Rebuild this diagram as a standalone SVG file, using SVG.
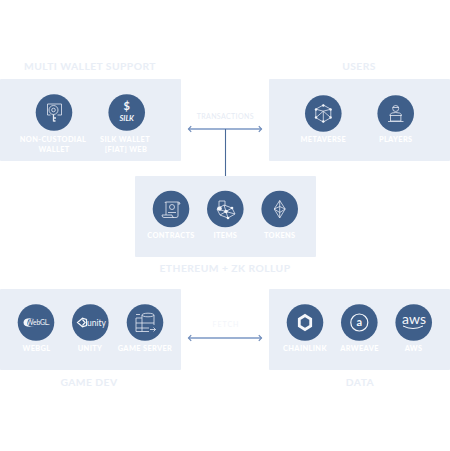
<svg xmlns="http://www.w3.org/2000/svg" width="450" height="451" viewBox="0 0 450 451">
<defs>
<marker id="ah" markerUnits="userSpaceOnUse" markerWidth="6" markerHeight="8" refX="4.5" refY="4" orient="auto-start-reverse"><path d="M1.8 1.2L4.5 4L1.8 6.800" fill="none" stroke="#6f8cbb" stroke-width="1.200"/></marker>
</defs>
<style>
text{font-family:"Lato","Liberation Sans",sans-serif;font-weight:700;text-anchor:middle}
.panel{fill:#e9eef6}
.disc{fill:#3f5f8a}
.title{fill:#e9eef6;font-size:10.3px;letter-spacing:.45px}
.lab{fill:#ffffff;font-size:7.4px;letter-spacing:.35px;font-weight:900}
.edge{fill:#e6ebf4;font-size:7px;letter-spacing:.4px;font-weight:400}
.ic{fill:none;stroke:#e4e9f2;stroke-width:.8}
.glyph{fill:#f2f5fa}
.logo{fill:#f5f7fb;font-weight:400}
.conn{fill:none;stroke:#7b97c4;stroke-width:1.300;marker-start:url(#ah);marker-end:url(#ah)}
</style>
<g id="connectors">
<line class="conn" x1="188.500" y1="129" x2="261.500" y2="129"/>
<line class="conn" x1="188.500" y1="338" x2="261.500" y2="338"/>
<line x1="225.500" y1="129" x2="225.500" y2="176" stroke="#4a6a99" stroke-width="1.100"/>
<text class="edge" x="225.300" y="118.500">TRANSACTIONS</text>
<text class="edge" x="226" y="327" style="fill:#f3f5fa;letter-spacing:1px">FETCH</text>
</g>
<g id="multi-wallet"><rect class="panel" x="0" y="79" width="181" height="82" rx="1"/><text class="title" x="90" y="70">MULTI WALLET SUPPORT</text></g>
<g id="non-custodial"><circle class="disc" cx="54" cy="112.500" r="18.300"/><path class="ic" d="M47.500 115v-11h14v11h-4M47.500 115h3"/><circle class="ic" cx="53.500" cy="110" r="4.500"/><circle class="ic" cx="53.500" cy="110" r="1.800"/><path d="M53.500 114.500v7M53.500 118h2.500M53.500 121h2" fill="none" stroke="#e4e9f2" stroke-width="1.300"/><text class="lab" x="53" y="141.500">NON-CUSTODIAL</text><text class="lab" x="54" y="151.500">WALLET</text></g>
<g id="silk-wallet"><circle class="disc" cx="126.700" cy="112.500" r="18.300"/><text x="126.700" y="109.500" style="fill:#f5f7fb;font-size:11px">$</text><text x="126.700" y="120.500" style="fill:#f5f7fb;font-size:7.500px;font-style:italic">SILK</text><text class="lab" x="125" y="141.500">SILK WALLET</text><text class="lab" x="126" y="151.500">[FIAT] WEB</text></g>
<g id="users"><rect class="panel" x="269" y="79" width="181" height="82" rx="1"/><text class="title" x="359" y="70">USERS</text></g>
<g id="metaverse"><circle class="disc" cx="323.300" cy="113.500" r="18.300"/><path class="ic" d="M323.300 105l7.500 4.200v8.500l-7.500 4.300l-7.500-4.300v-8.500zM315.800 109.200l7.500 2l7.500-2M323.300 111.200v10.800M316 117.500l7.300-6.300l7.300 6.300"/><circle class="glyph" cx="323.300" cy="105.500" r="1.200"/><circle class="glyph" cx="316" cy="109.500" r="1.200"/><circle class="glyph" cx="330.600" cy="109.500" r="1.200"/><circle class="glyph" cx="316" cy="117.500" r="1.200"/><circle class="glyph" cx="330.600" cy="117.500" r="1.200"/><circle class="glyph" cx="323.300" cy="121.500" r="1.200"/><text class="lab" x="323.300" y="142">METAVERSE</text></g>
<g id="players"><circle class="disc" cx="395.700" cy="113.500" r="18.300"/><circle class="ic" cx="395.700" cy="108.500" r="3"/><path class="ic" d="M392.500 107.500h6.400M390 116v-1.500q1-2 5.700-2t5.700 2v1.500"/><rect class="ic" x="390.500" y="115.500" width="10.400" height="5.500"/><path class="ic" d="M388 121.500h15.500"/><text class="lab" x="395.700" y="142">PLAYERS</text></g>
<g id="ethereum"><rect class="panel" x="135" y="176" width="181" height="81" rx="1"/><text class="title" x="225" y="272">ETHEREUM + ZK ROLLUP</text></g>
<g id="contracts"><circle class="disc" cx="171" cy="209" r="18.300"/><path class="ic" d="M166 202h12q2 0 2 2h-2v12q0 1.500-2 1.500h-12q-2 0-2-2.500h10q0 2.500 2 2.500M166 202v13M166 202q-1 0-1 1M178 204v-2"/><circle class="ic" cx="172" cy="207" r="2.500"/><path class="ic" d="M168 212.500h8"/><text class="lab" x="171" y="238">CONTRACTS</text></g>
<g id="items"><circle class="disc" cx="225.300" cy="209" r="18.300"/><path class="ic" d="M219 201h6v5M219 201v5M217 209l7-4l8 3l3 6l-7 4l-8-3zM224 205l4 13M217 209l18 5M232 208l-12 7"/><circle class="glyph" cx="219.500" cy="208.500" r="2.300"/><circle class="glyph" cx="226" cy="211.500" r="1.800"/><circle class="glyph" cx="232" cy="208" r="1.300"/><circle class="glyph" cx="228" cy="218" r="1.300"/><text class="lab" x="225.300" y="238">ITEMS</text></g>
<g id="tokens"><circle class="disc" cx="279.700" cy="209" r="18.300"/><path class="ic" d="M279.700 200.500l5.500 8.500l-5.500 3.500l-5.500-3.500zM274.200 209l5.500 9l5.500-9M279.700 200.500v17.500M274.200 209l5.500-2.500l5.500 2.500"/><text class="lab" x="279.700" y="238">TOKENS</text></g>
<g id="game-dev"><rect class="panel" x="0" y="289" width="181" height="81" rx="1"/><text class="title" x="89" y="385.500">GAME DEV</text></g>
<g id="webgl"><circle class="disc" cx="36" cy="322.500" r="18.300"/><path d="M36 318.200h-6q-6.500 0-6.500 4.300t6.500 4.300h6q-9 .5-9-4.300t9-4.300z" class="glyph"/><text class="logo" x="38" y="325" style="font-size:6.800px;letter-spacing:-.2px">WebGL.</text><text class="lab" x="36.500" y="351">WEBGL</text></g>
<g id="unity"><circle class="disc" cx="90.300" cy="322.500" r="18.300"/><path d="M77.500 322.500l5-4.300l4 1.200v6.200l-4 1.200zM82.500 319.500l2.500 3l-2.500 3" fill="none" stroke="#f5f7fb" stroke-width="1.200"/><text class="logo" x="96.500" y="325.500" style="font-size:8.500px">unity</text><text class="lab" x="90" y="351">UNITY</text></g>
<g id="game-server"><circle class="disc" cx="145" cy="322.500" r="18.300"/><ellipse class="ic" cx="148" cy="315" rx="6" ry="1.800"/><path class="ic" d="M142 315v16.500M154 315v10M136 318v13.500h13M136 318h6M136 323h18M136 328h13M136 314.500h4M150 329.500h5.500M153.500 327.500l2 2l-2 2"/><text class="lab" x="145" y="351">GAME SERVER</text></g>
<g id="data"><rect class="panel" x="269" y="289" width="181" height="81" rx="1"/><text class="title" x="360" y="385.500">DATA</text></g>
<g id="chainlink"><circle class="disc" cx="305" cy="322.500" r="18.300"/><path d="M305 315.500l5.700 3.500v7l-5.700 3.500l-5.700-3.500v-7z" fill="none" stroke="#f5f7fb" stroke-width="2.800"/><text class="lab" x="305" y="351">CHAINLINK</text></g>
<g id="arweave"><circle class="disc" cx="359.300" cy="322.500" r="18.300"/><circle cx="359.300" cy="322.500" r="8.500" fill="none" stroke="#f5f7fb" stroke-width="1.200"/><text x="359.300" y="326.300" style="fill:#f5f7fb;font-size:11px;font-weight:700">a</text><text class="lab" x="359.500" y="351">ARWEAVE</text></g>
<g id="aws"><circle class="disc" cx="413.700" cy="322.500" r="18.300"/><text class="logo" x="414" y="323.500" style="font-size:14px">aws</text><path d="M403 326q10 5 20 0" fill="none" stroke="#f5f7fb" stroke-width="1"/><text class="lab" x="413.500" y="351">AWS</text></g>
</svg>
